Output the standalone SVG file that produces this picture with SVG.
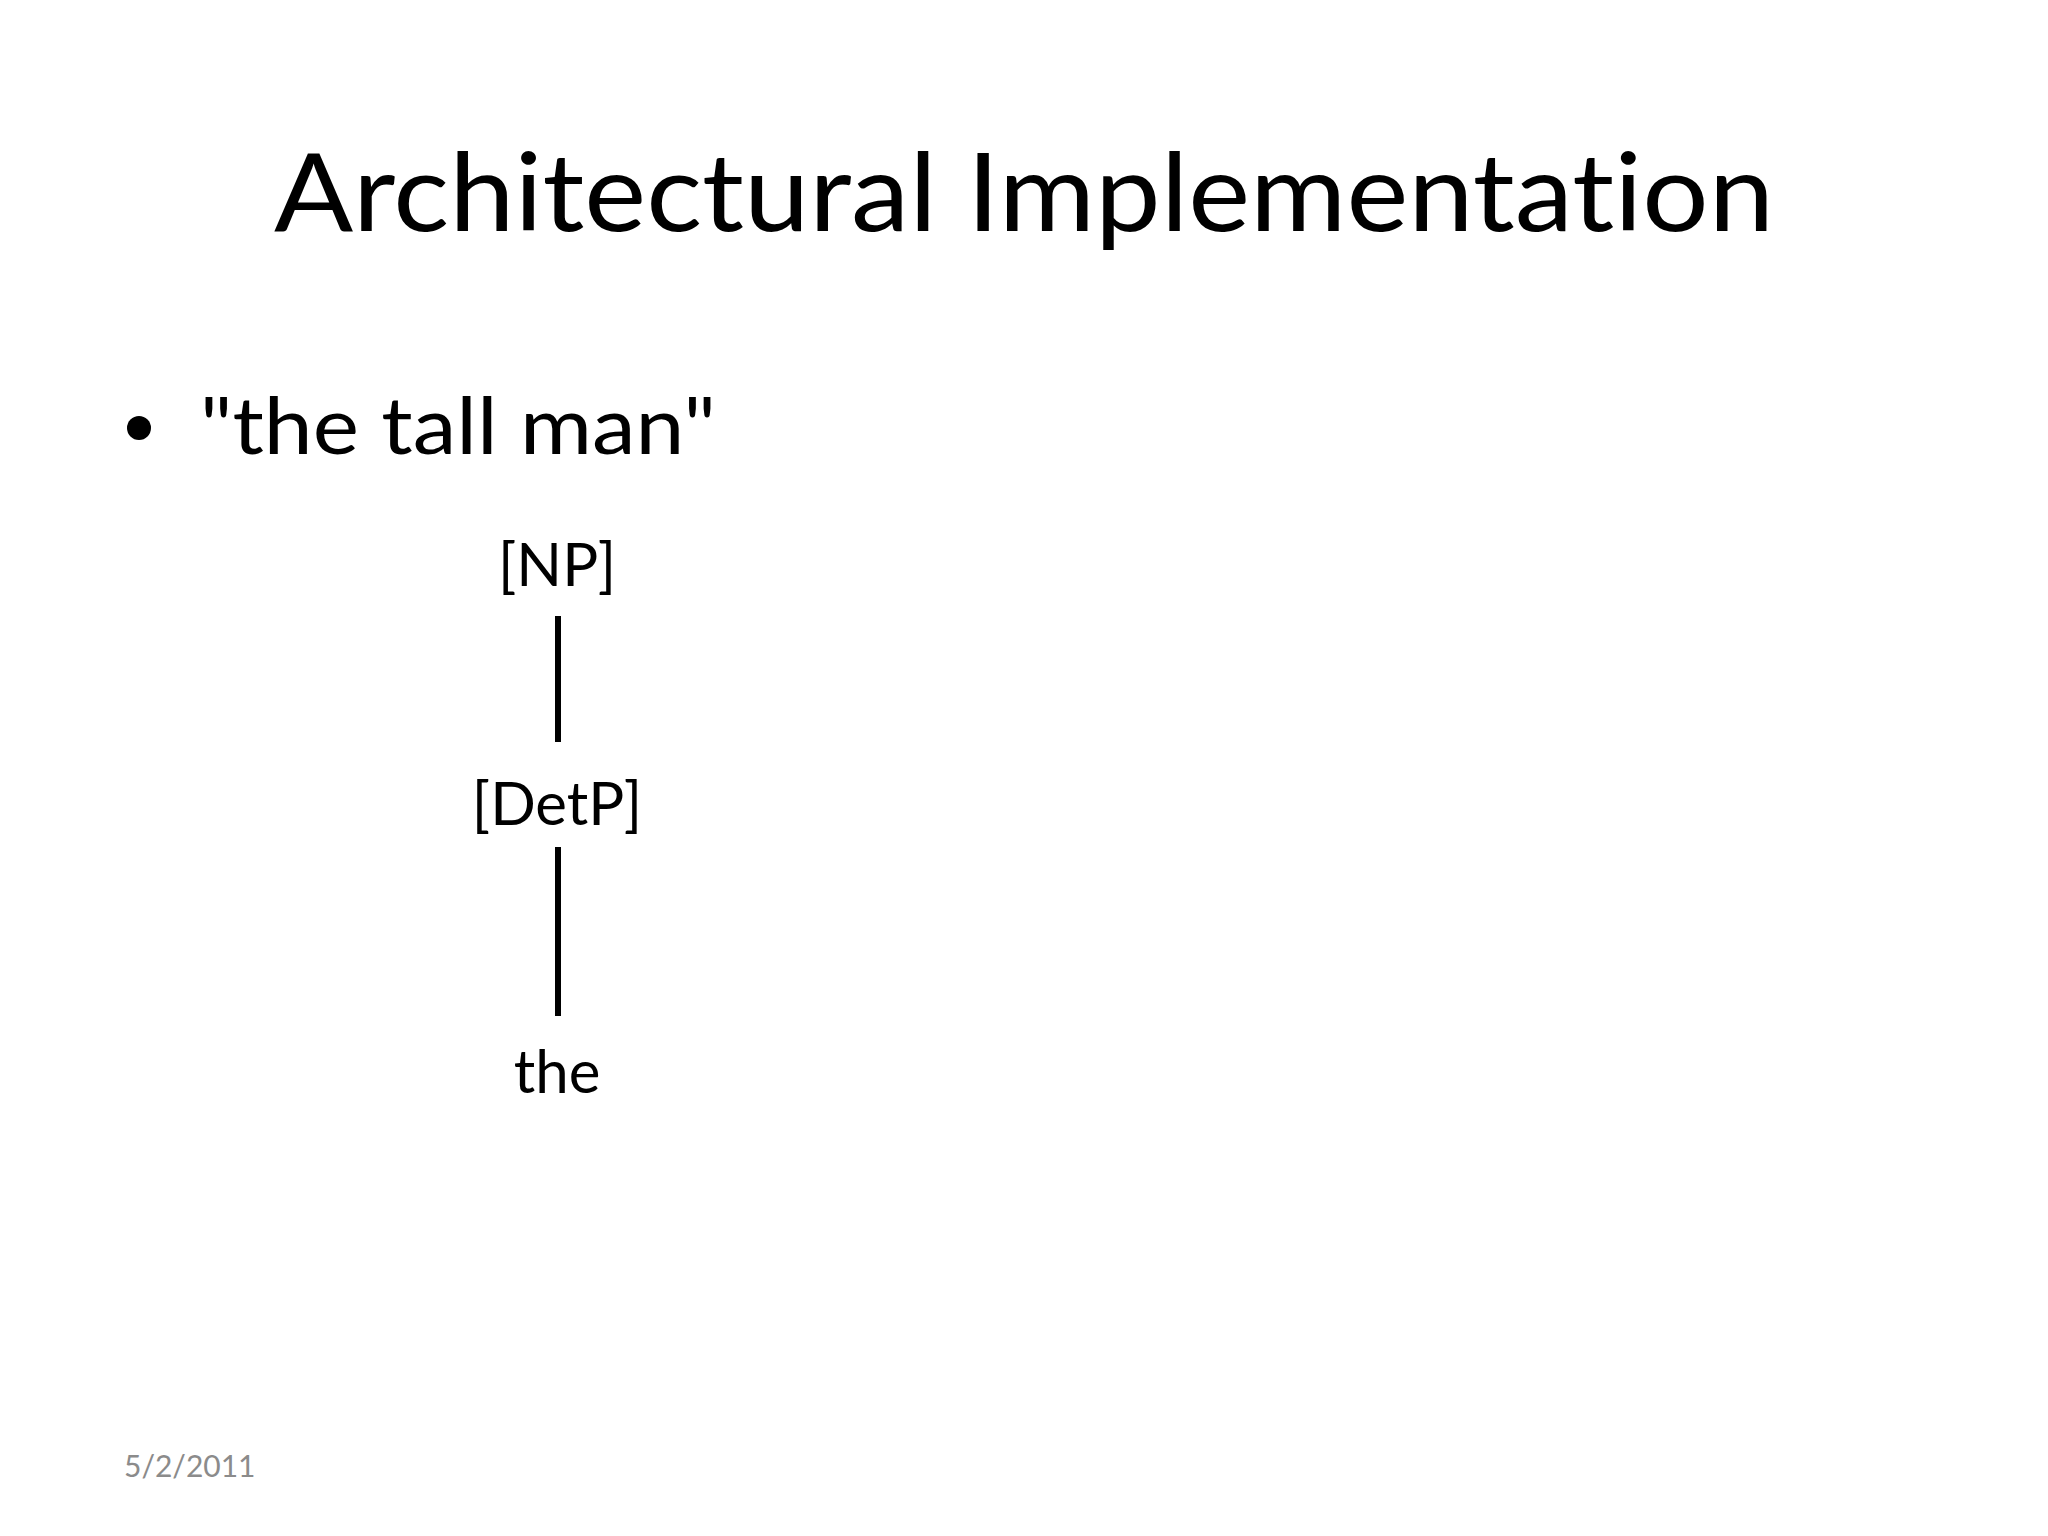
<svg xmlns="http://www.w3.org/2000/svg" width="2048" height="1536" viewBox="0 0 2048 1536">
  <style>
    text { font-family: Lato, "Open Sans", "Liberation Sans", sans-serif; fill: #000; font-variant-ligatures: none; font-feature-settings: "liga" 0, "dlig" 0; }
    .title { font-size: 109px; }
    .bullet { font-size: 80px; }
    .node { font-size: 60px; text-anchor: middle; }
    .date { font-size: 30px; fill: #8b8b8b; }
    .edge { stroke: #000; stroke-width: 6; fill: none; }
  </style>
  <rect width="2048" height="1536" fill="#fff"/>
  <g id="title">
    <text class="title" x="274" y="231" textLength="1500" lengthAdjust="spacingAndGlyphs">Architectural Implementation</text>
  </g>
  <g id="bullet">
    <circle cx="139" cy="428" r="12" fill="#000"/>
    <text class="bullet" x="200" y="454" textLength="516" lengthAdjust="spacingAndGlyphs">"the tall man"</text>
  </g>
  <g id="connectors">
    <line class="edge" x1="558" y1="616" x2="558" y2="742"/>
    <line class="edge" x1="558" y1="847" x2="558" y2="1016"/>
  </g>
  <g id="node-np">
    <text class="node" x="557" y="586">[NP]</text>
  </g>
  <g id="node-detp">
    <text class="node" x="557" y="825">[DetP]</text>
  </g>
  <g id="node-the">
    <text class="node" x="557" y="1093">the</text>
  </g>
  <g id="footer">
    <text class="date" x="124" y="1477">5/2/2011</text>
  </g>
</svg>
